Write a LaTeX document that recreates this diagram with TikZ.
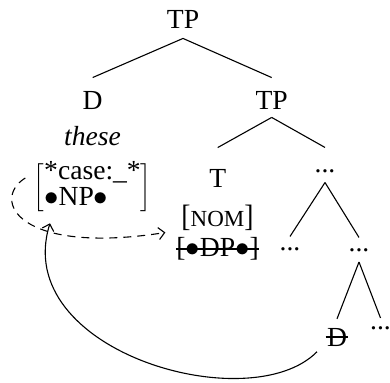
\documentclass[tikz,border=0pt]{standalone}
\usepackage{fontspec}
\setmainfont{Liberation Serif}
\usetikzlibrary{arrows.meta}
\newcommand{\tallbr}[1]{\scalebox{1}[1.12]{#1}}
\begin{document}
\begin{tikzpicture}[x=0.5pt,y=-0.5pt,
  every node/.style={inner sep=0pt,font=\fontsize{13.8}{16.5}\selectfont},
  branch/.style={line width=0.55pt},
  strike/.style={line width=0.55pt},
  movedash/.style={line width=0.55pt,dash pattern=on 4pt off 3pt,-{Straight Barb[length=3pt,width=6pt]}},
  moveline/.style={line width=0.55pt,-{Straight Barb[length=3pt,width=6pt]}}]
\useasboundingbox (0,0) rectangle (390,383);
% nodes
\node (tp) at (183,19) {TP};
\node (d) at (92.7,100) {D};
\node (these) at (92.5,136) {\itshape these};
\node (tp2) at (271.7,100) {TP};
\node (avm) at (92.5,187.5) {\renewcommand\arraystretch{0.8}$\left[\begin{tabular}{@{}l@{}}*case:\_*\\ $\bullet$NP$\bullet$\end{tabular}\right]$};
\node (t) at (217.7,178) {T};
\node (nom) at (217.5,217.5) {\tallbr{[}{\fontsize{11.5}{13}\selectfont NOM}\tallbr{]}};
\node (dp) at (217.5,249) {[$\bullet$DP$\bullet$]};
\node (dots1) at (325,171) {...};
\node (dots2) at (290,249) {...};
\node (dots3) at (359,250) {...};
\node (dd) at (337,337) {D};
\node (dots4) at (380.5,328.5) {...};
% strike-throughs
\draw[strike] (dp.west) -- (dp.east);
\draw[strike] ([xshift=-0.5pt]dd.west) -- ([xshift=0.5pt]dd.east);
% branches
\draw[branch] ([yshift=-5pt]tp.south) -- ([yshift=6.5pt]d.north);
\draw[branch] ([yshift=-5pt]tp.south) -- ([yshift=6.5pt]tp2.north);
\draw[branch] ([yshift=-4pt]tp2.south) -- ([yshift=10.5pt]t.north);
\draw[branch] ([yshift=-4pt]tp2.south) -- ([yshift=10.75pt]dots1.north);
\draw[branch] ([yshift=-4.75pt]dots1.south) -- ([yshift=5.25pt]dots2.north);
\draw[branch] ([yshift=-4.75pt]dots1.south) -- ([yshift=5.25pt]dots3.north);
\draw[branch] ([yshift=-5pt]dots3.south) -- ([yshift=4.35pt]dd.north);
\draw[branch] ([yshift=-5pt]dots3.south) -- ([yshift=4.25pt]dots4.north);
% movement arrows
\draw[movedash] ([shift={(-8,-9.5)}]avm.west) .. controls +(-35,22) and +(-147,23) .. ([shift={(-15.7,15)}]nom.west);
\draw[moveline] ([shift={(-20,5.3)}]dd.south) .. controls +(-67,68) and +(-40,128) .. ([shift={(-42.5,9)}]avm.south);
\end{tikzpicture}
\end{document}
